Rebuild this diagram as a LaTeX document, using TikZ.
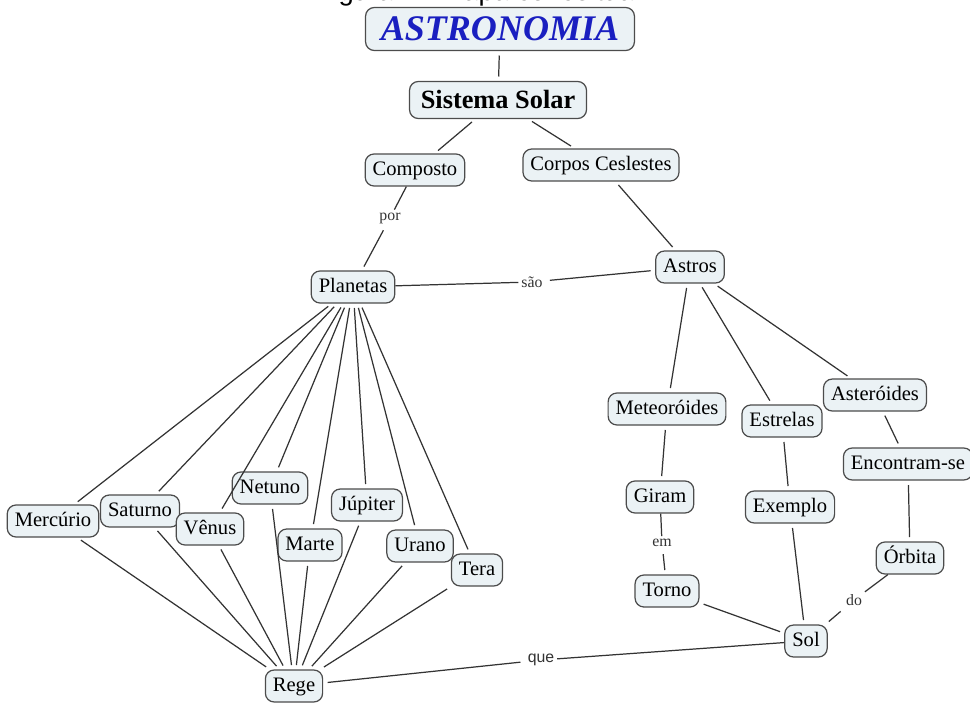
\documentclass[tikz,border=0pt]{standalone}
\usepackage{fontspec}
\setmainfont{Liberation Serif}
\newfontfamily\capfont{Liberation Sans}
\begin{document}
\begin{tikzpicture}[x=0.02cm,y=-0.02cm,
  concept/.style={draw=black!70, line width=0.7pt, fill=nodefill, rounded corners=5pt,
    font=\fontsize{11.7}{14}\selectfont, inner xsep=0.15cm, inner ysep=0pt,
    minimum height=0.64cm, text height=8.2pt, text depth=2.4pt},
  link/.style={font=\fontsize{9}{10}\selectfont, fill=white, inner sep=1.5pt, text=black!80},
  conn/.style={draw=black!80, line width=0.7pt, shorten <=2.5pt, shorten >=2.5pt}]
\definecolor{nodefill}{HTML}{EBF2F5}
\definecolor{titleblue}{HTML}{1A1FC0}
\useasboundingbox (0,0) rectangle (970,703);
\clip (0,0) rectangle (970,703);
\node[font=\capfont\fontsize{15.6}{17}\selectfont, anchor=base, inner sep=0pt] (cap) at (478,1) {Figura 1 - Mapa conceitual};

\node[concept, minimum width=5.38cm, minimum height=0.86cm, font=\fontsize{20.5}{22}\selectfont\bfseries\itshape, text=titleblue, text height=13.6pt, text depth=0pt] (astro) at (500,29) {ASTRONOMIA};
\node[concept, minimum width=3.54cm, minimum height=0.74cm, font=\fontsize{15}{17}\selectfont\bfseries, text height=9.9pt, text depth=0pt] (sist) at (498,100) {Sistema Solar};
\node[concept] (comp) at (415,170) {Composto};
\node[concept] (corp) at (601,165) {Corpos Ceslestes};
\node[concept] (plan) at (353,287) {Planetas};
\node[concept] (astros) at (690,267) {Astros};
\node[concept] (meteo) at (667,409) {Meteoróides};
\node[concept] (estr) at (782,421) {Estrelas};
\node[concept] (aster) at (875,395) {Asteróides};
\node[concept] (enc) at (908,464) {Encontram-se};
\node[concept] (giram) at (660,497) {Giram};
\node[concept] (exem) at (790,507) {Exemplo};
\node[concept] (orb) at (910,558) {Órbita};
\node[concept] (torno) at (667,591) {Torno};
\node[concept] (sol) at (806,641) {Sol};
\node[concept] (rege) at (294,686) {Rege};

\node[concept] (merc) at (53,521) {Mercúrio};
\node[concept] (satu) at (140,511) {Saturno};
\node[concept] (venu) at (210,529) {Vênus};
\node[concept] (netu) at (270,488) {Netuno};
\node[concept] (mart) at (310,545) {Marte};
\node[concept] (jupi) at (367,505) {Júpiter};
\node[concept] (uran) at (420,546) {Urano};
\node[concept] (tera) at (477,570) {Tera};

\node[link] (por) at (390,218) {por};
\node[link] (sao) at (532,282) {são};
\node[link] (em) at (662,543) {em};
\node[link] (do) at (854,600) {do};
\node[link, font=\capfont\fontsize{9}{10}\selectfont] (que) at (541,660) {que};

\draw[conn] (astro) -- (sist);
\draw[conn] (sist) -- (comp);
\draw[conn] (sist) -- (corp);
\draw[conn] (comp) -- (por) -- (plan);
\draw[conn] (corp) -- (astros);
\draw[conn] (plan) -- (sao) -- (astros);
\draw[conn] (astros) -- (meteo);
\draw[conn] (astros) -- (estr);
\draw[conn] (astros) -- (aster);
\draw[conn] (meteo) -- (giram);
\draw[conn] (giram) -- (em) -- (torno);
\draw[conn] (torno) -- (sol);
\draw[conn] (estr) -- (exem);
\draw[conn] (exem) -- (sol);
\draw[conn] (aster) -- (enc);
\draw[conn] (enc) -- (orb);
\draw[conn] (orb) -- (do) -- (sol);
\draw[conn] (sol) -- (que) -- (rege);
\foreach \p in {merc,satu,venu,netu,mart,jupi,uran,tera}{
  \draw[conn] (plan) -- (\p);
  \draw[conn] (\p) -- (rege);
}
\end{tikzpicture}
\end{document}
